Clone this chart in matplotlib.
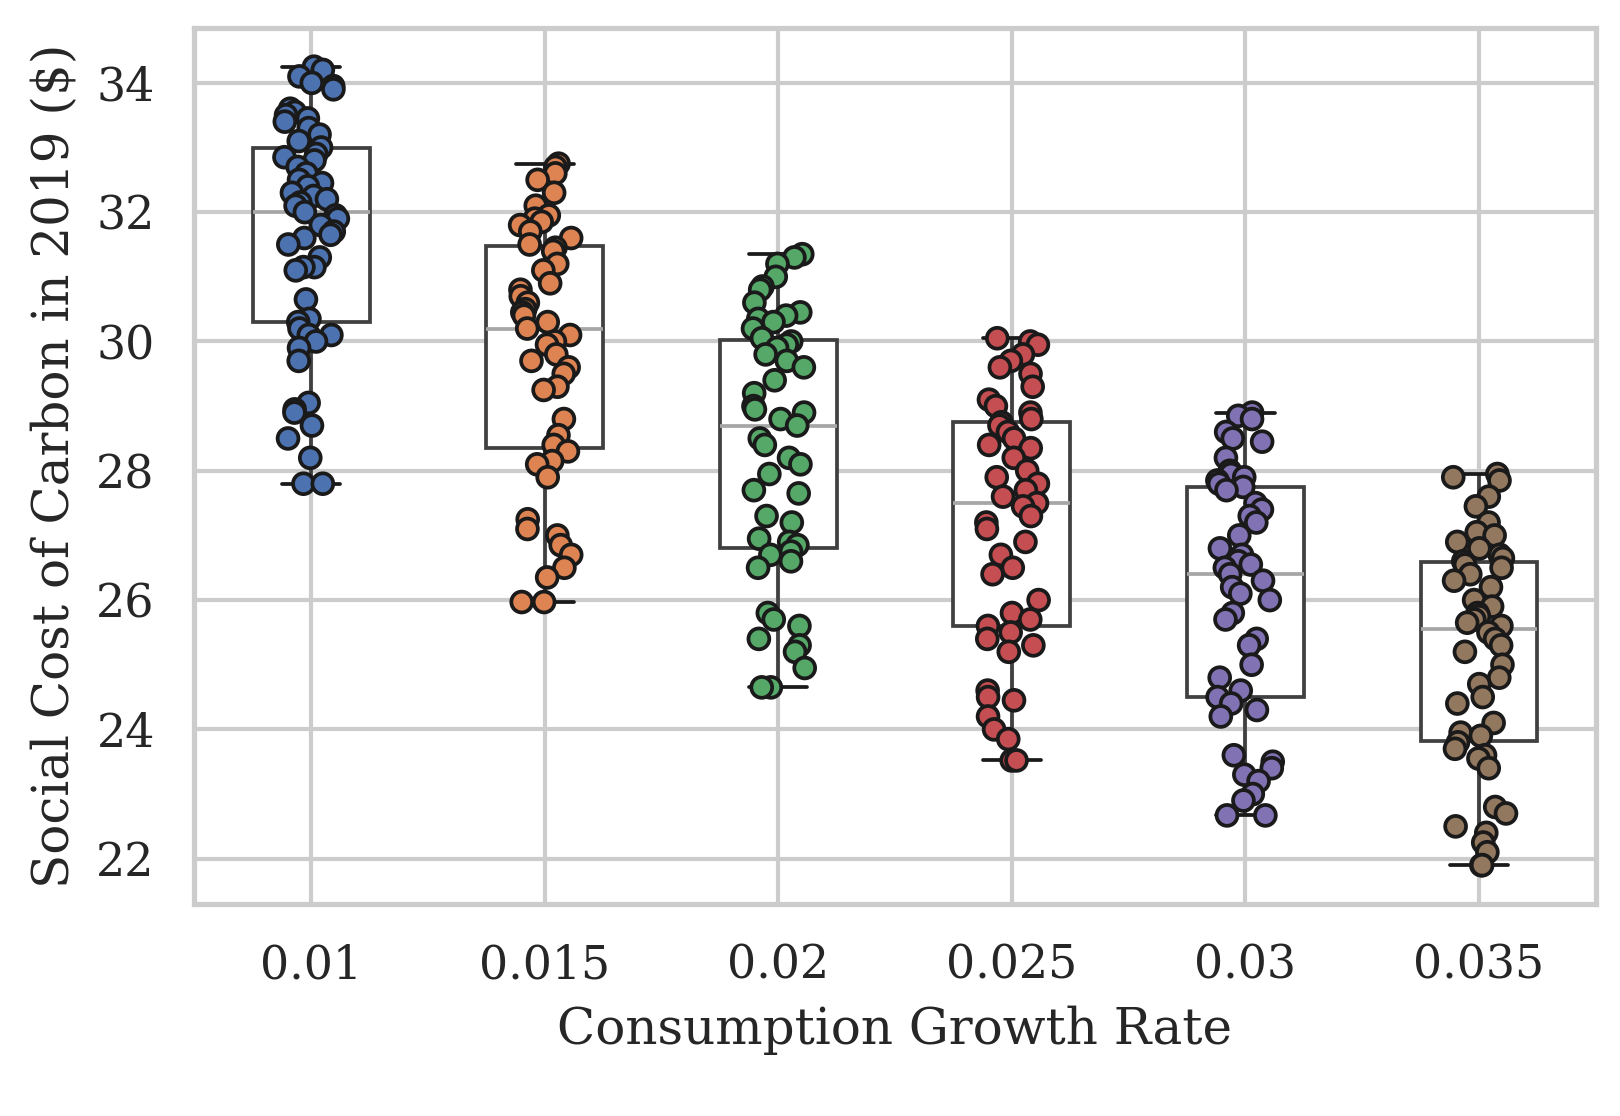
import matplotlib
matplotlib.use("Agg")
import matplotlib.pyplot as plt
import seaborn as sns
import numpy as np
import pandas as pd

rates = ["0.01", "0.015", "0.02", "0.025", "0.03", "0.035"]
scc_001 = [34.25,34.2,34.1,34.0,33.95,33.9,33.6,33.55,33.5,33.45,33.4,33.3,33.2,33.1,33.0,32.9,32.85,32.8,32.7,32.6,32.5,32.45,32.4,32.3,32.25,32.2,32.15,32.1,32.0,31.95,31.9,31.8,31.7,31.65,31.6,31.5,31.3,31.15,31.15,31.1,30.65,30.35,30.3,30.2,30.1,30.1,30.0,29.9,29.7,29.05,28.95,28.9,28.7,28.5,28.2,27.8,27.8]
scc_0015 = [32.75,32.7,32.6,32.5,32.3,32.1,31.95,31.9,31.85,31.8,31.7,31.6,31.5,31.45,31.4,31.2,31.1,30.9,30.8,30.7,30.6,30.5,30.45,30.4,30.3,30.2,30.1,30.0,29.95,29.8,29.7,29.6,29.5,29.3,29.25,28.8,28.55,28.4,28.3,28.15,28.1,27.9,27.25,27.1,27.0,26.85,26.7,26.5,26.35,25.97,25.97]
scc_002 = [31.35,31.3,31.2,31.0,30.85,30.8,30.6,30.45,30.4,30.35,30.3,30.2,30.05,30.0,29.95,29.9,29.8,29.7,29.6,29.4,29.2,29.0,28.95,28.9,28.8,28.7,28.5,28.4,28.2,28.1,27.95,27.7,27.65,27.3,27.2,26.95,26.9,26.85,26.75,26.7,26.6,26.5,25.8,25.7,25.6,25.4,25.3,25.2,24.95,24.65,24.65]
scc_0025 = [30.05,30.0,29.95,29.8,29.7,29.6,29.5,29.3,29.1,29.0,28.9,28.8,28.75,28.7,28.6,28.5,28.4,28.35,28.2,28.0,27.9,27.8,27.7,27.6,27.5,27.45,27.3,27.2,27.1,26.9,26.7,26.5,26.4,26.0,25.8,25.7,25.6,25.5,25.4,25.3,25.2,24.6,24.5,24.45,24.2,24.0,23.85,23.52,23.52]
scc_003 = [28.9,28.85,28.8,28.6,28.5,28.45,28.2,28.0,27.95,27.9,27.85,27.8,27.75,27.7,27.5,27.4,27.3,27.2,27.0,26.8,26.7,26.6,26.55,26.5,26.4,26.3,26.2,26.1,26.0,25.8,25.7,25.4,25.3,25.0,24.8,24.6,24.5,24.4,24.3,24.2,23.6,23.5,23.4,23.3,23.2,23.0,22.9,22.67,22.67]
scc_0035 = [27.95,27.9,27.85,27.6,27.45,27.2,27.05,27.0,26.9,26.8,26.7,26.65,26.6,26.55,26.5,26.4,26.3,26.2,26.0,25.9,25.8,25.75,25.7,25.65,25.6,25.5,25.4,25.3,25.2,25.0,24.8,24.7,24.5,24.4,24.1,23.95,23.9,23.8,23.7,23.6,23.55,23.4,22.8,22.7,22.5,22.4,22.25,22.1,21.9,21.9]

groups = [scc_001, scc_0015, scc_002, scc_0025, scc_003, scc_0035]
df = pd.DataFrame({"rate": np.repeat(rates, [len(g) for g in groups]),
                   "scc": np.concatenate(groups)})

sns.set_theme(style="whitegrid")
plt.rcParams["font.family"] = ["DejaVu Serif"]
fig, ax = plt.subplots(figsize=(5.4, 3.72), dpi=300)
sns.boxplot(data=df, x="rate", y="scc", order=rates, whis=[0, 100], width=0.5,
            showfliers=False, ax=ax, linewidth=0.9,
            boxprops=dict(facecolor="white", edgecolor="0.25", zorder=2),
            whiskerprops=dict(color="0.25"), capprops=dict(color="0.1"),
            medianprops=dict(color="0.65"))
np.random.seed(3)
sns.stripplot(data=df, x="rate", y="scc", order=rates, hue="rate", palette="deep",
              jitter=0.12, size=5, linewidth=0.9, edgecolor="0.1", ax=ax, legend=False, zorder=3)
ax.set_xlabel("Consumption Growth Rate", fontsize=12)
ax.set_ylabel("Social Cost of Carbon in 2019 ($)", fontsize=12)
ax.tick_params(labelsize=11)
ax.set_yticks([22, 24, 26, 28, 30, 32, 34])
ax.set_ylim(21.3, 34.85)
ax.grid(True, axis="both")
for s in ax.spines.values():
    s.set_color("0.8")
fig.subplots_adjust(left=0.12, right=0.985, top=0.975, bottom=0.19)
fig.savefig("out.png", dpi=300)
